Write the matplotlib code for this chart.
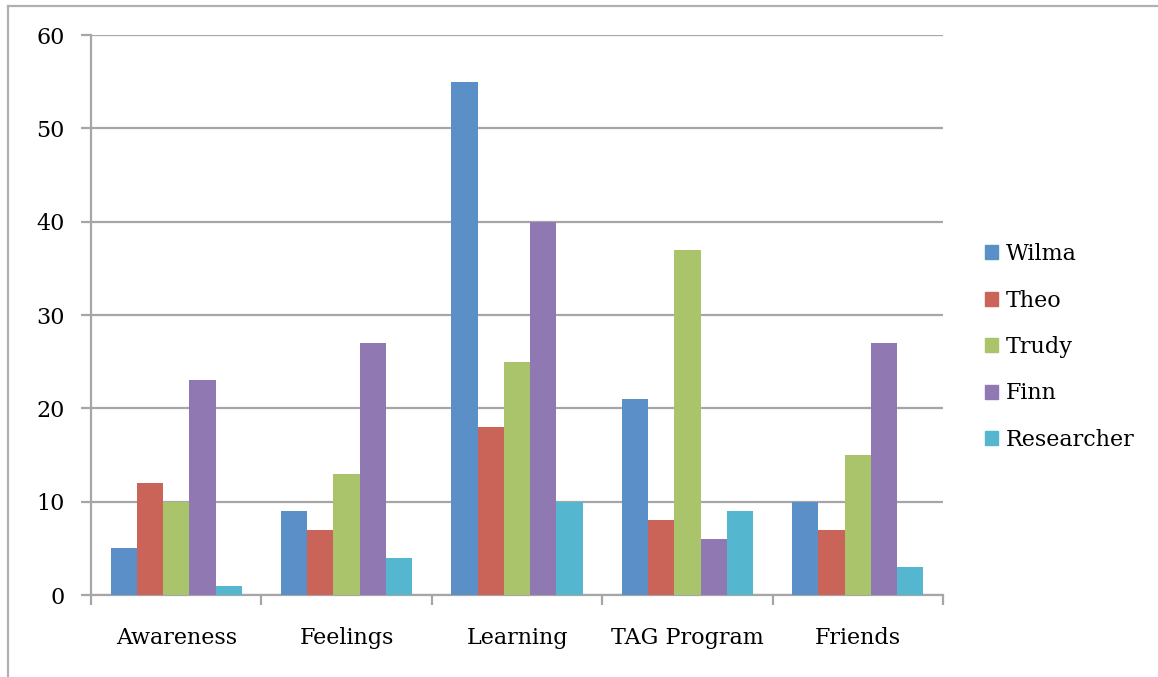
import matplotlib
matplotlib.use("Agg")
import matplotlib.pyplot as plt
import matplotlib.patches as mpatches
from matplotlib.lines import Line2D
import numpy as np

# ---------------------------------------------------------------------------
# Data
# ---------------------------------------------------------------------------
categories = ["Awareness", "Feelings", "Learning", "TAG Program", "Friends"]
series_names = ["Wilma", "Theo", "Trudy", "Finn", "Researcher"]

wilma = [5, 9, 55, 21, 10]
theo = [12, 7, 18, 8, 7]
trudy = [10, 13, 25, 37, 15]
finn = [23, 27, 40, 6, 27]
researcher = [1, 4, 10, 9, 3]

y_ticks = [0, 10, 20, 30, 40, 50, 60]

colors = ["#5b8fc8", "#cb6458", "#a9c46a", "#9079b2", "#55b7cf"]
grey = "#a6a6a6"

plt.rcParams["font.family"] = ["DejaVu Serif"]

fig = plt.figure(figsize=(11.58, 6.77), dpi=100)
fig.patch.set_facecolor("white")

# outer frame (only top and left edges visible in the crop)
fig.add_artist(Line2D([8 / 1158, 8 / 1158], [0, 1 - 6 / 677],
                      transform=fig.transFigure, color="#b0b0b0", lw=1.6))
fig.add_artist(Line2D([8 / 1158, 1], [1 - 6 / 677, 1 - 6 / 677],
                      transform=fig.transFigure, color="#b0b0b0", lw=1.6))

ax = fig.add_axes([91 / 1158, 1 - 595 / 677, (943 - 91) / 1158, (595 - 35) / 677])

x = np.arange(len(categories))
bar_w = 0.154
all_series = [wilma, theo, trudy, finn, researcher]
for i, (name, vals) in enumerate(zip(series_names, all_series)):
    offset = (i - 2) * bar_w
    ax.bar(x + offset, vals, width=bar_w, color=colors[i], label=name,
           zorder=3, linewidth=0)

ax.set_xlim(-0.5, len(categories) - 0.5)
ax.set_ylim(0, 60)
ax.set_yticks(y_ticks)
ax.yaxis.grid(True, color=grey, lw=1.6, zorder=0)

ax.set_xticks(x)
ax.set_xticklabels(categories)
ax.set_xticks(np.arange(-0.5, len(categories)), minor=True)
ax.tick_params(axis="x", which="major", length=0, pad=23, labelsize=16)
ax.tick_params(axis="x", which="minor", length=7, width=1.6, color=grey)
ax.tick_params(axis="y", length=7, width=1.6, color=grey, pad=12, labelsize=16)

for side in ["top", "right"]:
    ax.spines[side].set_visible(False)
for side in ["left", "bottom"]:
    ax.spines[side].set_color(grey)
    ax.spines[side].set_linewidth(1.6)

handles = [mpatches.Patch(color=c, label=n) for c, n in zip(colors, series_names)]
fig.legend(handles=handles, loc="center left",
           bbox_to_anchor=(985 / 1158, 1 - 347 / 677),
           frameon=False, fontsize=16, handlelength=0.6, handleheight=0.6,
           handletextpad=0.35, labelspacing=1.1, borderpad=0, borderaxespad=0)

fig.savefig("out.png", dpi=100, facecolor="white")
